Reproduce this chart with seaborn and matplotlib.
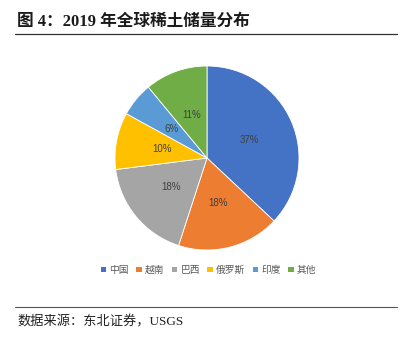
import matplotlib
matplotlib.use("Agg")
import matplotlib.pyplot as plt
from matplotlib.patches import Patch
from matplotlib.lines import Line2D
import seaborn as sns

# 2019 global rare earth reserves share (%)
countries = ["中国", "越南", "巴西", "俄罗斯", "印度", "其他"]
shares = [37, 18, 18, 10, 6, 11]
colors = ["#4472C4", "#ED7D31", "#A5A5A5", "#FFC000", "#5B9BD5", "#70AD47"]

title = "图 4：2019 年全球稀土储量分布"
source = "数据来源：东北证券，USGS"

sns.set_theme(style="white")
plt.rcParams["font.family"] = ["Noto Sans CJK SC", "DejaVu Sans"]
serif_mix = ["Liberation Serif", "Noto Sans CJK SC"]

W, H = 409, 342
fig = plt.figure(figsize=(W / 100, H / 100), dpi=100)
fig.patch.set_facecolor("white")

palette = sns.color_palette(colors)

# pie axes: centre (207,158) px, radius 92 px
cx, cy, r = 207, 158, 92
ax = fig.add_axes([(cx - r) / W, (H - cy - r) / H, 2 * r / W, 2 * r / H])
wedges, texts, autotexts = ax.pie(
    shares, colors=palette, startangle=90, counterclock=False,
    autopct=lambda p: f"{p:.0f}%", pctdistance=0.5,
    wedgeprops=dict(edgecolor="white", linewidth=0.6),
    textprops=dict(fontsize=7, color="#404040", family=["Liberation Sans"]),
)
ax.set_xlim(-1, 1)
ax.set_ylim(-1, 1)
ax.set_aspect("equal")

# legend
handles = [Patch(facecolor=c, edgecolor="none") for c in palette]
fig.legend(handles, countries, loc="center", bbox_to_anchor=(0.51, 1 - 270 / H),
           ncol=6, frameon=False, fontsize=7, handlelength=0.55, handleheight=0.55,
           handletextpad=0.35, columnspacing=0.75, labelcolor="#595959")

# title and rules
fig.text(17 / W, 1 - 22 / H, title, fontsize=12, fontweight="bold",
         family=serif_mix, color="#1a1a1a", va="center", ha="left")
fig.add_artist(Line2D([15 / W, 397 / W], [1 - 34 / H, 1 - 34 / H],
                      color="#333333", linewidth=0.9))
fig.add_artist(Line2D([15 / W, 397 / W], [1 - 307 / H, 1 - 307 / H],
                      color="#555555", linewidth=0.8))
fig.text(17 / W, 1 - 322 / H, source, fontsize=9.5, family=serif_mix,
         color="#222222", va="center", ha="left")

fig.savefig("out.png", dpi=100, facecolor="white")
